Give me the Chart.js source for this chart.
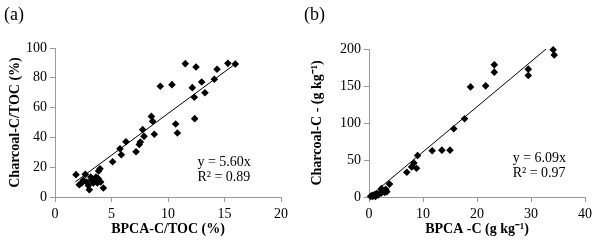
<!DOCTYPE html>
<html>
<head>
<meta charset="utf-8">
<script src="https://cdn.jsdelivr.net/npm/chart.js@4"></script>
<style>
  html, body { margin: 0; padding: 0; background: #fff; }
  .wrap { position: absolute; top: 0; width: 300px; height: 247px; }
  #wa { left: 0; }
  #wb { left: 300px; }
</style>
</head>
<body>
<div class="wrap" id="wa"><canvas id="chartA" width="300" height="247"></canvas></div>
<div class="wrap" id="wb"><canvas id="chartB" width="300" height="247"></canvas></div>
<script>
// panel (a): BPCA-C/TOC vs Charcoal-C/TOC (%)
const xA = [1.86, 2.15, 2.36, 2.51, 2.68, 2.80, 2.95, 3.04, 3.16, 3.24, 3.39, 3.54, 3.63, 3.75, 3.83, 3.86, 3.98, 4.04, 4.28,
            5.1, 5.75, 5.87, 6.28, 7.17, 7.46, 7.55, 7.76, 7.88, 8.53, 8.64, 8.79, 9.32, 10.35, 10.68, 10.83,
            11.53, 12.15, 12.33, 12.36, 12.48, 12.98, 13.27, 14.1, 14.34, 15.3, 15.96];
const yA = [15.0, 8.3, 9.4, 11.2, 15.2, 10.1, 7.8, 4.9, 13.4, 11.6, 9.4, 11.2, 13.4, 9.4, 12.3, 17.4, 19.0, 10.1, 6.0,
            23.7, 32.4, 28.4, 37.1, 30.4, 35.3, 36.9, 45.2, 40.7, 54.1, 50.8, 42.1, 74.3, 75.4, 49.0, 43.0,
            89.5, 73.4, 66.9, 52.6, 87.2, 77.2, 70.0, 79.0, 85.7, 89.7, 89.3];
const trendAX = [1.8, 15.9];
const trendAY = [10.1, 89.0];
const eqA = ["y = 5.60x", "R\u00b2 = 0.89"];

// panel (b): BPCA-C vs Charcoal-C (g kg-1)
const xB = [34.1, 34.3, 23.2, 23.2, 29.5, 29.5, 18.8, 21.6, 17.7, 15.7, 11.7, 13.5, 15.0, 9.0, 8.3, 8.8, 7.9, 7.0,
            3.8, 3.1, 2.6, 2.3, 2.0, 1.4, 1.05, 0.6, 0.3, 0.7, 1.2, 1.7, 2.9, 3.3, 2.3];
const yB = [199, 191.8, 178.6, 168.7, 172.8, 164.2, 148.8, 150.2, 105.8, 92.2, 62.4, 63.3, 63.3, 56.1, 46.1, 38.9, 40.7, 33.5,
            17.4, 10.4, 7.7, 11.3, 5.4, 4.5, 3.2, 2.3, 0.9, 0.9, 0.9, 2.7, 6.3, 7.2, 5.4];
const trendBX = [0, 32.8];
const trendBY = [0, 200];
const eqB = ["y = 6.09x", "R\u00b2 = 0.97"];

const serif = "'Liberation Serif', 'Times New Roman', serif";
const axisGray = "#9a9a9a";

function pts(xs, ys) {
    return xs.map((x, i) => ({ x: x, y: ys[i] }));
}

// draws panel letter and regression text
function textPlugin(letter, eq, anchor) {
    return {
        id: "txt" + letter,
        afterDraw(chart) {
            const ctx = chart.ctx;
            ctx.save();
            ctx.fillStyle = "#000";
            ctx.font = "18px " + serif;
            ctx.textBaseline = "middle";
            ctx.textAlign = "left";
            ctx.fillText(letter, 4, 15);
            ctx.font = "14px " + serif;
            const px = chart.scales.x.getPixelForValue(anchor[0]);
            ctx.fillText(eq[0], px, chart.scales.y.getPixelForValue(anchor[1]));
            ctx.fillText(eq[1], px, chart.scales.y.getPixelForValue(anchor[2]));
            ctx.restore();
        }
    };
}

function makeChart(id, xs, ys, tx, ty, opts) {
    return new Chart(document.getElementById(id), {
        type: "scatter",
        data: {
            datasets: [
                {
                    data: pts(xs, ys),
                    pointStyle: "rectRot",
                    pointRadius: 3.8,
                    pointHoverRadius: 3.8,
                    backgroundColor: "#000",
                    borderColor: "#000",
                    borderWidth: 0,
                    clip: false
                },
                {
                    type: "line",
                    data: pts(tx, ty),
                    borderColor: "#000",
                    borderWidth: 1,
                    pointRadius: 0,
                    fill: false
                }
            ]
        },
        options: {
            responsive: false,
            animation: false,
            layout: { padding: { top: opts.top, right: opts.right, left: 0, bottom: 0 } },
            plugins: { legend: { display: false }, tooltip: { enabled: false } },
            scales: {
                x: {
                    type: "linear",
                    min: 0, max: opts.xMax,
                    ticks: { stepSize: opts.xStep, color: "#000", font: { family: serif, size: 14 }, padding: 4 },
                    grid: { drawOnChartArea: false, drawTicks: true, tickLength: 5, color: axisGray },
                    border: { color: axisGray },
                    title: { display: true, text: opts.xTitle, color: "#000",
                             font: { family: serif, size: 14, weight: "bold" }, padding: { top: 0, bottom: 9 } },
                    afterFit(s) { s.height = 50; }
                },
                y: {
                    min: 0, max: opts.yMax,
                    ticks: { stepSize: opts.yStep, color: "#000", font: { family: serif, size: 14 }, padding: 3 },
                    grid: { drawOnChartArea: false, drawTicks: true, tickLength: 5, color: axisGray },
                    border: { color: axisGray },
                    title: { display: true, text: opts.yTitle, color: "#000",
                             font: { family: serif, size: 14, weight: "bold" }, padding: { top: opts.yTitlePad, bottom: 0 } },
                    afterFit(s) { s.width = opts.yWidth; }
                }
            }
        },
        plugins: [textPlugin(opts.letter, opts.eq, opts.anchor)]
    });
}

makeChart("chartA", xA, yA, trendAX, trendAY, {
    letter: "(a)", eq: eqA, anchor: [12.6, 23.3, 13.2],
    xMax: 20, xStep: 5, yMax: 100, yStep: 20,
    xTitle: "BPCA-C/TOC (%)", yTitle: "Charcoal-C/TOC (%)",
    top: 48, right: 19, yWidth: 55, yTitlePad: 7
});

makeChart("chartB", xB, yB, trendBX, trendBY, {
    letter: "(b)", eq: eqB, anchor: [26.6, 52.5, 32],
    xMax: 40, xStep: 10, yMax: 200, yStep: 50,
    xTitle: "BPCA -C (g kg\u207b\u00b9)", yTitle: "Charcoal-C - (g kg\u207b\u00b9)",
    top: 49, right: 15, yWidth: 69, yTitlePad: 9
});
</script>
</body>
</html>
